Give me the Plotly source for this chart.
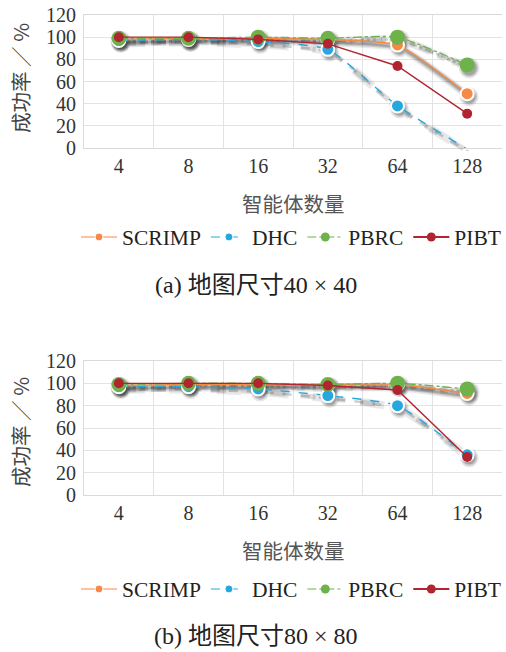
import plotly.graph_objects as go

agents = ["4", "8", "16", "32", "64", "128"]
y_ticks = [0, 20, 40, 60, 80, 100, 120]

# (a) 40 x 40
scrimp_a = [98, 99, 99, 98, 93, 49]
dhc_a = [97, 98, 96, 89, 38, -1]
pbrc_a = [99, 99, 100, 99, 100, 75]
pibt_a = [100, 100, 98, 94, 74, 31]

# (b) 80 x 80
scrimp_b = [98, 99, 99, 99, 99, 91]
dhc_b = [97, 97, 95, 89, 80, 36]
pbrc_b = [99, 100, 100, 99, 100, 95]
pibt_b = [100, 100, 100, 98, 94, 34]

series_names = ["SCRIMP", "DHC", "PBRC", "PIBT"]

W, H = 506, 652
SERIF = "Liberation Serif"
CJK = "Noto Sans CJK SC"

styles = {
    "SCRIMP": dict(color="#F58A45", dash="solid", size=13, lw=1.4, outline=True, shadow=True, shape="spline"),
    "DHC": dict(color="#27A7E0", dash="dash", size=13, lw=1.4, outline=True, shadow=True, shape="spline"),
    "PBRC": dict(color="#6DB24A", dash="dashdot", size=15, lw=1.3, outline=False, shadow=True, shape="spline"),
    "PIBT": dict(color="#B22430", dash="solid", size=10, lw=1.4, outline=False, shadow=False, shape="linear"),
}

L_PX, R_PX = 84, 502
def px_x(px):
    return px / W
def px_y(px):
    return 1 - px / H
def xd(dx=0):
    return [px_x(L_PX + dx), px_x(R_PX + dx)]
def yd(top_px, bot_px, dy=0):
    return [px_y(bot_px + dy), px_y(top_px + dy)]

fig = go.Figure()

def add_shadow(vals, xa, ya, name):
    s = styles[name]
    if not s["shadow"]:
        return
    for w, op, msz in [(8, 0.10, 6), (5, 0.16, 3), (2.5, 0.22, 0)]:
        fig.add_trace(go.Scatter(
            x=agents, y=vals, xaxis=xa, yaxis=ya, showlegend=False, hoverinfo="skip",
            mode="lines+markers", opacity=op,
            line=dict(color="#2a2a2a", width=w, dash=s["dash"], shape=s["shape"], smoothing=0.5),
            marker=dict(size=s["size"] + msz, color="#2a2a2a"),
            cliponaxis=False,
        ))

def add_series(name, vals, xa, ya):
    s = styles[name]
    fig.add_trace(go.Scatter(
        x=agents, y=vals, name=name, xaxis=xa, yaxis=ya, showlegend=False,
        mode="lines+markers",
        line=dict(color=s["color"], dash=s["dash"], width=s["lw"], shape=s["shape"], smoothing=0.5),
        marker=dict(size=s["size"], color=s["color"],
                    line=dict(color="white", width=2 if s["outline"] else 0)),
        cliponaxis=False,
    ))

def add_legend_entry(name, legend, xa, ya):
    s = styles[name]
    fig.add_trace(go.Scatter(
        x=[None], y=[None], name=name, legend=legend, xaxis=xa, yaxis=ya,
        mode="lines+markers",
        line=dict(color=s["color"], dash=s["dash"], width=1.8 if name == "PIBT" else 1.2),
        marker=dict(size=9 if name in ("PBRC", "PIBT") else 8, color=s["color"],
                    line=dict(color="white", width=1 if s["outline"] else 0)),
    ))

data_a = [scrimp_a, dhc_a, pbrc_a, pibt_a]
data_b = [scrimp_b, dhc_b, pbrc_b, pibt_b]

# legend entries (also anchor the visible axes)
for name in series_names:
    add_legend_entry(name, "legend", "x", "y")
for name in series_names:
    add_legend_entry(name, "legend2", "x2", "y2")
# shadows
for name, vals in zip(series_names, data_a):
    add_shadow(vals, "x3", "y3", name)
for name, vals in zip(series_names, data_b):
    add_shadow(vals, "x4", "y4", name)
# data
for name, vals in zip(series_names, data_a):
    add_series(name, vals, "x5", "y5")
for name, vals in zip(series_names, data_b):
    add_series(name, vals, "x6", "y6")

xcommon = dict(type="category", categoryarray=agents, categoryorder="array",
               range=[-0.5, 5.5], tickson="boundaries",
               showgrid=True, gridcolor="#E3E3E3", gridwidth=1,
               showline=True, linecolor="#DADADA", mirror=True, ticks="",
               tickfont=dict(family=SERIF, size=20, color="#333333"),
               fixedrange=True)
ycommon = dict(range=[0, 120], tickvals=y_ticks, showgrid=True, gridcolor="#E3E3E3",
               gridwidth=1, zeroline=False, showline=True, linecolor="#DADADA",
               ticks="", ticklabelstandoff=3, ticklabeloverflow="allow",
               tickfont=dict(family=SERIF, size=20, color="#333333"),
               fixedrange=True)
hidden_x = dict(type="category", categoryarray=agents, categoryorder="array",
                range=[-0.5, 5.5], visible=False, fixedrange=True)
hidden_y = dict(range=[0, 120], visible=False, fixedrange=True)

TOP_A, BOT_A = 15, 148
TOP_B, BOT_B = 361, 495
SX, SY = 2, 3

legend_common = dict(orientation="h", xanchor="center", yanchor="middle",
                     font=dict(family=SERIF, size=21.5, color="#222222"), itemwidth=36,
                     tracegroupgap=0, bgcolor="rgba(0,0,0,0)", xref="paper", yref="paper")

fig.update_layout(
    width=W, height=H,
    margin=dict(l=0, r=0, t=0, b=0, autoexpand=False),
    plot_bgcolor="rgba(0,0,0,0)", paper_bgcolor="white",
    xaxis=dict(xcommon, domain=xd(), anchor="y"),
    yaxis=dict(ycommon, domain=yd(TOP_A, BOT_A), anchor="x"),
    xaxis2=dict(xcommon, domain=xd(), anchor="y2"),
    yaxis2=dict(ycommon, domain=yd(TOP_B, BOT_B), anchor="x2"),
    xaxis3=dict(hidden_x, domain=xd(SX), anchor="y3"),
    yaxis3=dict(hidden_y, domain=yd(TOP_A, BOT_A, SY), anchor="x3"),
    xaxis4=dict(hidden_x, domain=xd(SX), anchor="y4"),
    yaxis4=dict(hidden_y, domain=yd(TOP_B, BOT_B, SY), anchor="x4"),
    xaxis5=dict(hidden_x, domain=xd(), anchor="y5"),
    yaxis5=dict(hidden_y, domain=yd(TOP_A, BOT_A), anchor="x5"),
    xaxis6=dict(hidden_x, domain=xd(), anchor="y6"),
    yaxis6=dict(hidden_y, domain=yd(TOP_B, BOT_B), anchor="x6"),
    legend=dict(legend_common, x=px_x(291), y=px_y(237)),
    legend2=dict(legend_common, x=px_x(291), y=px_y(589)),
    showlegend=True,
)

anns = []
for ycen, xtitle, cap, capy in [
    (78, 203, "(a) 地图尺寸40 × 40", 285),
    (432, 550, "(b) 地图尺寸80 × 80", 636),
]:
    anns.append(dict(text="成功率 ／ %", x=px_x(20), y=px_y(ycen), xref="paper", yref="paper",
                     textangle=-90, showarrow=False, xanchor="center", yanchor="middle",
                     font=dict(family=CJK, size=20.5, color="#444444")))
    anns.append(dict(text="智能体数量", x=px_x(293), y=px_y(xtitle), xref="paper", yref="paper",
                     showarrow=False, xanchor="center", yanchor="middle",
                     font=dict(family=CJK, size=20.5, color="#555555")))
    anns.append(dict(text=cap, x=px_x(256), y=px_y(capy), xref="paper", yref="paper",
                     showarrow=False, xanchor="center", yanchor="middle",
                     font=dict(family=SERIF + ", " + CJK, size=24, color="#222222")))
fig.update_layout(annotations=anns)

fig.write_html("out.html", config={"displayModeBar": False},
               post_script="document.body.style.margin='0';")
